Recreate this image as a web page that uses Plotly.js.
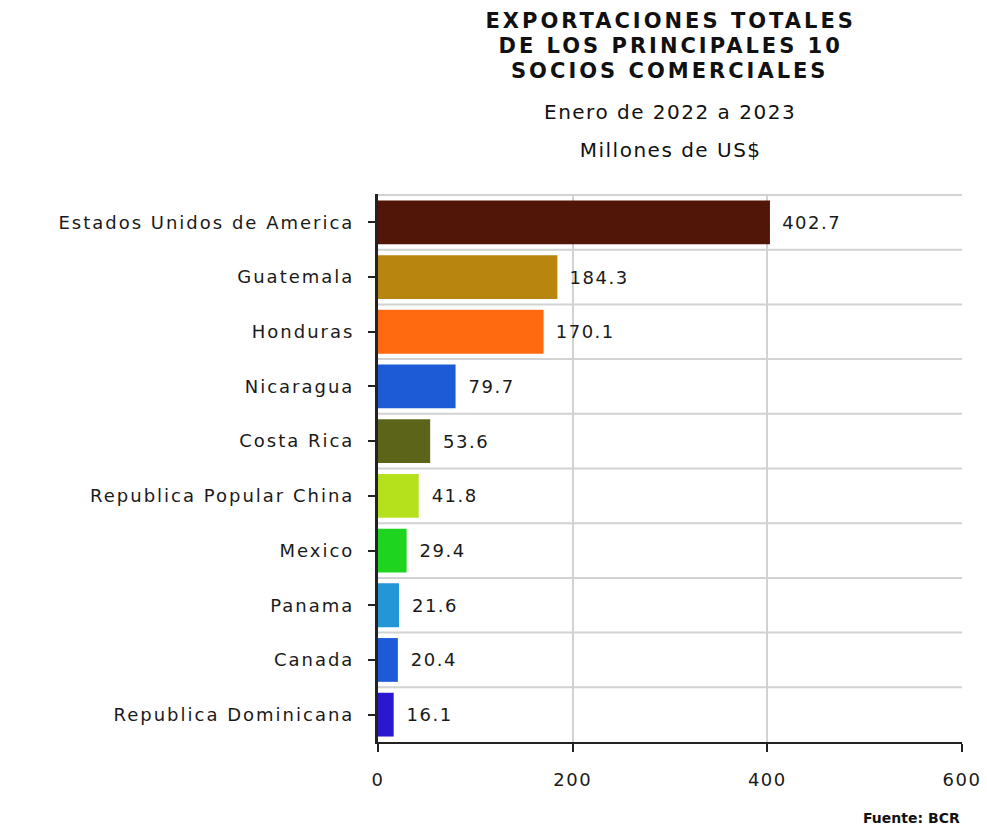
<!DOCTYPE html>
<html>
<head>
<meta charset="utf-8">
<script src="https://cdn.plot.ly/plotly-3.0.1.min.js"></script>
<style>
html,body{margin:0;padding:0;background:#fff;}
#chart{width:987px;height:825px;}
#chart .ytick text{letter-spacing:2px;}
#chart .xtick text{letter-spacing:1.5px;}
#chart .bartext{letter-spacing:1.5px;}
#chart .annotation[data-index="0"] text,
#chart .annotation[data-index="1"] text,
#chart .annotation[data-index="2"] text{letter-spacing:3px;}
#chart .annotation[data-index="3"] text,
#chart .annotation[data-index="4"] text{letter-spacing:1.5px;}
</style>
</head>
<body>
<div id="chart"></div>
<script>
const categories = ["Estados Unidos de America","Guatemala","Honduras","Nicaragua","Costa Rica","Republica Popular China","Mexico","Panama","Canada","Republica Dominicana"];
const values = [402.7,184.3,170.1,79.7,53.6,41.8,29.4,21.6,20.4,16.1];
const colors = ["#521608","#b8860f","#ff6a10","#1c5ad6","#5c6419","#b4e01c","#1ed41e","#2296d6","#1c5ad8","#2a18d0"];
const titleLines = ["EXPORTACIONES TOTALES","DE LOS PRINCIPALES 10","SOCIOS COMERCIALES"];
const subtitles = ["Enero de 2022 a 2023","Millones de US$"];
const source = "Fuente: BCR";

const FONT = "DejaVu Sans, Verdana, sans-serif";

const trace = {
  type: "bar",
  orientation: "h",
  x: values,
  y: categories,
  marker: {color: colors, line: {width: 0}},
  width: 0.8,
  text: values.map(v => v.toFixed(1)),
  texttemplate: "\u00a0\u00a0%{text}",
  textposition: "outside",
  cliponaxis: false,
  textfont: {family: FONT, size: 18, color: "#1a1a1a"},
  hoverinfo: "x+y"
};

// category boundary gridlines (between bars, plus top frame)
const shapes = [];
for (let i = -1; i < categories.length - 1; i++) {
  shapes.push({type: "line", xref: "paper", x0: 0, x1: 1, yref: "y", y0: i + 0.5, y1: i + 0.5,
    line: {color: "#d2d2d2", width: 2}, layer: "below"});
}

const annotations = [];
titleLines.forEach((t, i) => annotations.push({
  text: "<b>" + t + "</b>", xref: "paper", yref: "paper", x: 0.5, y: 1, yanchor: "middle",
  yshift: (194 - 21) - i * 25, showarrow: false, font: {family: FONT, size: 21, color: "#111"}
}));
annotations.push({text: subtitles[0], xref: "paper", yref: "paper", x: 0.5, y: 1, yanchor: "middle",
  yshift: 194 - 112, showarrow: false, font: {family: FONT, size: 20, color: "#111"}});
annotations.push({text: subtitles[1], xref: "paper", yref: "paper", x: 0.5, y: 1, yanchor: "middle",
  yshift: 194 - 150, showarrow: false, font: {family: FONT, size: 20, color: "#111"}});
annotations.push({text: "<b>" + source + "</b>", xref: "paper", yref: "paper", x: 1, y: 0, xanchor: "right",
  yanchor: "middle", yshift: -(818 - 742), showarrow: false, font: {family: FONT, size: 14, color: "#111"}});

const layout = {
  width: 987, height: 825,
  margin: {l: 378, r: 25, t: 194, b: 83},
  paper_bgcolor: "#fff", plot_bgcolor: "#fff",
  showlegend: false,
  bargap: 0.2,
  font: {family: FONT, color: "#111"},
  xaxis: {
    range: [0, 600], tickvals: [0, 200, 400, 600], ticktext: ["0","200","400","600"],
    showgrid: true, gridcolor: "#d2d2d2", gridwidth: 2,
    zeroline: false, showline: true, linecolor: "#222", linewidth: 2,
    ticks: "outside", ticklen: 8, tickwidth: 2, tickcolor: "#222", ticklabelstandoff: 12,
    tickfont: {family: FONT, size: 18, color: "#1a1a1a"}, fixedrange: true
  },
  yaxis: {
    type: "category", autorange: "reversed",
    showgrid: false, zeroline: false, showline: true, linecolor: "#222", linewidth: 3,
    ticks: "outside", ticklen: 7, tickwidth: 2, tickcolor: "#222", ticklabelstandoff: 10,
    tickfont: {family: FONT, size: 18, color: "#1a1a1a"}, fixedrange: true
  },
  shapes: shapes,
  annotations: annotations
};

Plotly.newPlot("chart", [trace], layout, {displayModeBar: false, staticPlot: true});
</script>
</body>
</html>
